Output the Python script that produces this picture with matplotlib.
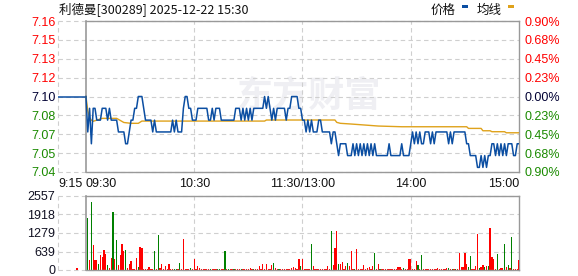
import matplotlib
matplotlib.use('Agg')
import matplotlib.pyplot as plt
from matplotlib.patches import Rectangle

# ---------------- data ----------------
title = "利德曼[300289] 2025-12-22 15:30"
prev_close = 7.10
left_labels = ['7.16', '7.15', '7.13', '7.12', '7.10', '7.08', '7.07', '7.05', '7.04']
right_labels = ['0.90%', '0.68%', '0.45%', '0.23%', '0.00%', '0.23%', '0.45%', '0.68%', '0.90%']
time_ticks = [-15.5, 0, 60, 120, 180, 240]
time_labels = ['9:15', '09:30', '10:30', '11:30/13:00', '14:00', '15:00']
vol_ticks = [2557, 1918, 1279, 639, 0]
vol_labels = ['2557', '1918', '1279', '639', '0']

pre_minutes = [-15.5, 0]
pre_prices = [7.10, 7.10]
pre_vol_minutes = [-5]
pre_vols = [80]

prices = [
    7.10, 7.07, 7.09, 7.06, 7.09, 7.09, 7.08, 7.08, 7.08, 7.09,
    7.09, 7.09, 7.08, 7.09, 7.08, 7.08, 7.08, 7.08, 7.07, 7.07,
    7.07, 7.07, 7.06, 7.06, 7.07, 7.08, 7.08, 7.09, 7.09, 7.10,
    7.10, 7.10, 7.09, 7.08, 7.08, 7.08, 7.08, 7.07, 7.08, 7.07,
    7.07, 7.07, 7.07, 7.07, 7.07, 7.07, 7.07, 7.07, 7.08, 7.07,
    7.08, 7.07, 7.07, 7.07, 7.09, 7.10, 7.10, 7.09, 7.09, 7.08,
    7.08, 7.08, 7.09, 7.09, 7.09, 7.09, 7.09, 7.09, 7.08, 7.08,
    7.09, 7.08, 7.09, 7.09, 7.09, 7.08, 7.08, 7.08, 7.08, 7.08,
    7.08, 7.08, 7.08, 7.09, 7.09, 7.09, 7.08, 7.09, 7.08, 7.09,
    7.08, 7.09, 7.08, 7.09, 7.09, 7.09, 7.09, 7.09, 7.09, 7.10,
    7.09, 7.10, 7.09, 7.08, 7.09, 7.08, 7.09, 7.09, 7.09, 7.09,
    7.09, 7.08, 7.09, 7.09, 7.10, 7.10, 7.10, 7.10, 7.09, 7.09,
    7.08, 7.08, 7.07, 7.08, 7.07, 7.08, 7.07, 7.07, 7.07, 7.08,
    7.08, 7.07, 7.07, 7.07, 7.07, 7.07, 7.06, 7.07, 7.07, 7.06,
    7.05, 7.06, 7.06, 7.06, 7.06, 7.05, 7.05, 7.05, 7.06, 7.05,
    7.06, 7.05, 7.06, 7.05, 7.06, 7.05, 7.06, 7.05, 7.06, 7.05,
    7.06, 7.05, 7.05, 7.05, 7.05, 7.05, 7.05, 7.05, 7.06, 7.05,
    7.05, 7.05, 7.05, 7.05, 7.05, 7.06, 7.05, 7.05, 7.05, 7.05,
    7.06, 7.07, 7.06, 7.07, 7.06, 7.07, 7.06, 7.06, 7.07, 7.07,
    7.07, 7.06, 7.07, 7.06, 7.07, 7.07, 7.07, 7.07, 7.07, 7.07,
    7.07, 7.06, 7.07, 7.06, 7.07, 7.07, 7.07, 7.07, 7.07, 7.07,
    7.07, 7.06, 7.06, 7.05, 7.05, 7.05, 7.05, 7.04, 7.04, 7.05,
    7.04, 7.05, 7.04, 7.05, 7.05, 7.06, 7.06, 7.05, 7.06, 7.05,
    7.06, 7.05, 7.06, 7.05, 7.06, 7.06, 7.06, 7.05, 7.05, 7.06,
    7.06,
]

avg_minutes = [0, 1, 2, 3, 4, 9, 17, 21, 25, 29, 31, 99, 100, 138, 139,
               141, 147, 155, 162, 175, 211, 212, 219, 220, 224, 225, 232, 233, 240]
avg_values = [7.100, 7.088, 7.082, 7.080, 7.079, 7.0815, 7.0815, 7.078, 7.0773,
              7.0773, 7.0792, 7.0792, 7.0801, 7.0801, 7.0781, 7.0773, 7.0767,
              7.0758, 7.0750, 7.0744, 7.0744, 7.0730, 7.0730, 7.0710, 7.0710,
              7.0702, 7.0702, 7.0693, 7.0693]

volumes = [
    0, 1797, 346, 2350, 864, 346, 346, 207, 518, 438,
    691, 553, 173, 69, 415, 2004, 380, 1037, 173, 518,
    899, 657, 691, 69, 207, 311, 35, 35, 415, 104,
    795, 760, 35, 35, 35, 104, 35, 35, 657, 35,
    1210, 69, 207, 35, 138, 35, 207, 35, 35, 35,
    35, 35, 242, 35, 1071, 35, 35, 35, 69, 35,
    380, 35, 138, 69, 35, 35, 35, 35, 35, 35,
    35, 35, 35, 35, 35, 35, 35, 657, 35, 35,
    35, 35, 35, 35, 35, 35, 35, 35, 35, 35,
    35, 69, 35, 35, 35, 35, 138, 35, 207, 35,
    207, 35, 35, 173, 242, 69, 35, 35, 35, 35,
    35, 35, 35, 35, 69, 104, 69, 35, 380, 138,
    380, 35, 35, 35, 35, 899, 138, 35, 35, 35,
    35, 35, 35, 35, 138, 35, 1348, 173, 760, 1348,
    207, 207, 276, 35, 138, 242, 138, 657, 35, 35,
    726, 35, 35, 35, 173, 35, 69, 104, 35, 138,
    588, 35, 207, 35, 35, 35, 35, 35, 35, 35,
    35, 35, 35, 104, 104, 35, 69, 35, 35, 380,
    380, 35, 35, 311, 173, 35, 518, 35, 35, 35,
    35, 35, 35, 35, 35, 69, 35, 35, 35, 35,
    69, 69, 35, 35, 35, 35, 35, 588, 104, 104,
    588, 207, 104, 484, 35, 35, 138, 1244, 69, 104,
    173, 104, 138, 138, 1452, 449, 380, 35, 553, 35,
    69, 69, 899, 104, 173, 69, 1140, 35, 35, 35,
    346,
]
vol_colors = (
    "rgrgrrrgrr" "rrgrrgrgrr" "rrgrrrrrrg" "rrrrrrrrgr" "grrrrrrrrg"
    "grgrrrrrgr" "rrrrrrrrrg" "rrrggrrgrg" "rrgrrrgrrr" "rrrgrrrrrr"
    "rrrrgrrgrr" "rrrrrrrrrg" "rrrrrgrrrr" "rrrrrrgrrr" "grrrrgrrrg"
    "rrrrrrrrrr" "grrgrrrrrr" "rrrrrrgrrr" "rrrrgrgrrr" "rrrrrrrrrr"
    "rgrgrgrrrr" "rrggrrrrgr" "rgrgrrrrgr" "rrgrgrgrrr" "r"
)

# ---------------- style ----------------
W, H = 578, 276
fig = plt.figure(figsize=(W / 100, H / 100), dpi=100)
fig.patch.set_facecolor('white')

RED = '#ff0000'
GREEN = '#1a8a00'
DARK = '#000033'
GRID = '#cfcfcf'
FRAME = '#999999'
BLUE = '#0b4ea2'
GOLD = '#dfa21b'
NUMFONT = ['Liberation Sans', 'DejaVu Sans']
CJK = ['Noto Sans CJK SC', 'DejaVu Sans']
DASH = (0, (4, 3))

x0, x1 = 58, 519
def axrect(top, bottom):
    return [x0 / W, 1 - bottom / H, (x1 - x0) / W, (bottom - top) / H]

step = prev_close * 0.009 / 4
levels = [prev_close + k * step for k in range(4, -5, -1)]
ymin, ymax = levels[-1], levels[0]
xmin, xmax = time_ticks[0], time_ticks[-1]
minutes = list(range(len(prices)))

# ---------------- price panel ----------------
ax = fig.add_axes(axrect(21, 172))
ax.set_xlim(xmin, xmax)
ax.set_ylim(ymin, ymax)
for s in ax.spines.values():
    s.set_visible(False)

# watermark
ax.text(309 / W, 1 - 96 / H, '东方财富', transform=fig.transFigure, fontsize=26,
        fontweight='bold', color='#efeff3', ha='center', va='center',
        family=CJK, zorder=0.2)

for lv in levels:
    ax.axhline(lv, color=GRID, lw=0.8, ls=DASH, zorder=1, clip_on=False)
for t in time_ticks[2:-1]:
    ax.axvline(t, color=GRID, lw=0.8, ls=DASH, zorder=1)
ax.axvline(xmin, color=GRID, lw=0.8, ls=DASH, zorder=1, clip_on=False)
ax.plot([0, xmax], [ymax, ymax], color=FRAME, lw=1.0, zorder=2, clip_on=False)
ax.plot([0, xmax], [ymin, ymin], color=FRAME, lw=1.0, zorder=2, clip_on=False)
ax.axvline(0, color=FRAME, lw=1.2, zorder=2, clip_on=False)
ax.axvline(xmax, color=FRAME, lw=1.0, zorder=2, clip_on=False)

ax.plot(pre_minutes, pre_prices, color=BLUE, lw=1.1, zorder=3)
ax.plot(avg_minutes, avg_values, color=GOLD, lw=1.0, zorder=3)
ax.plot(minutes, prices, color=BLUE, lw=1.1, zorder=4)

ax.set_yticks(levels)
ax.set_yticklabels(left_labels, fontsize=9, family=NUMFONT)
ax.tick_params(axis='y', length=0, pad=2)
for i, lab in enumerate(ax.get_yticklabels()):
    lab.set_color(RED if i < 4 else (DARK if i == 4 else GREEN))

ax.set_xticks(time_ticks)
ax.set_xticklabels(time_labels, fontsize=9, family=NUMFONT, color='#111111')
ax.tick_params(axis='x', length=0, pad=4)
xl = ax.get_xticklabels()
xl[0].set_ha('left'); xl[1].set_ha('left'); xl[-1].set_ha('right')

axr = ax.twinx()
axr.set_ylim(ymin, ymax)
for s in axr.spines.values():
    s.set_visible(False)
axr.set_yticks(levels)
axr.set_yticklabels(right_labels, fontsize=9, family=NUMFONT)
axr.tick_params(axis='y', length=0, pad=4)
for i, lab in enumerate(axr.get_yticklabels()):
    lab.set_color(RED if i < 4 else (DARK if i == 4 else GREEN))

# ---------------- volume panel ----------------
av = fig.add_axes(axrect(196, 270))
av.set_xlim(xmin, xmax)
av.set_ylim(0, vol_ticks[0])
for s in av.spines.values():
    s.set_visible(False)
for v in vol_ticks:
    av.axhline(v, color=GRID, lw=0.8, ls=DASH, zorder=1, clip_on=False)
for t in time_ticks[2:-1]:
    av.axvline(t, color=GRID, lw=0.8, ls=DASH, zorder=1)
av.axvline(xmin, color=GRID, lw=0.8, ls=DASH, zorder=1, clip_on=False)
av.plot([0, xmax], [vol_ticks[0], vol_ticks[0]], color=FRAME, lw=1.0, zorder=2, clip_on=False)
av.plot([0, xmax], [0, 0], color=FRAME, lw=1.0, zorder=5, clip_on=False)
av.axvline(0, color=FRAME, lw=1.2, zorder=2, clip_on=False)
av.axvline(xmax, color=FRAME, lw=1.0, zorder=2, clip_on=False)

cols = [RED if c == 'r' else '#008000' for c in vol_colors]
av.bar(minutes, volumes, width=0.7, color=cols, zorder=3, linewidth=0,
       antialiased=False)
av.bar(pre_vol_minutes, pre_vols, width=0.7, color=RED, zorder=3, linewidth=0,
       antialiased=False)

av.set_yticks(vol_ticks)
av.set_yticklabels(vol_labels, fontsize=9, family=NUMFONT, color='#111122')
av.tick_params(axis='y', length=0, pad=2)
av.set_xticks([])

# ---------------- title & legend ----------------
fig.text(59 / W, 1 - 9 / H, title, fontsize=9, family=CJK, ha='left', va='center',
         color='#111111')
fig.text(431 / W, 1 - 10 / H, '价格', fontsize=9, family=CJK, ha='left', va='center',
         color='#111111')
fig.text(477 / W, 1 - 10 / H, '均线', fontsize=9, family=CJK, ha='left', va='center',
         color='#111111')
fig.add_artist(Rectangle((462 / W, 1 - 8 / H), 6 / W, 3 / H, transform=fig.transFigure,
                         color=BLUE, lw=0))
fig.add_artist(Rectangle((508 / W, 1 - 8 / H), 6 / W, 3 / H, transform=fig.transFigure,
                         color=GOLD, lw=0))

fig.savefig('out.png', dpi=100)
